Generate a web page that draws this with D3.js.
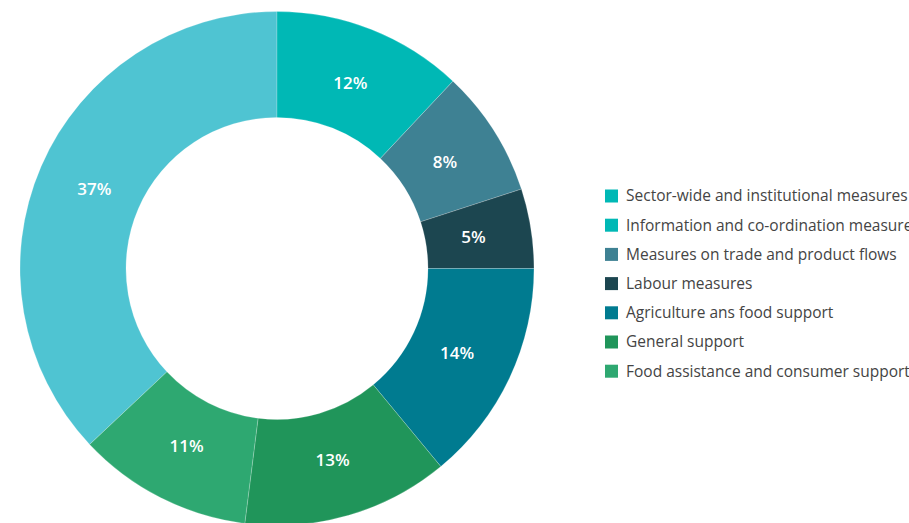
<!DOCTYPE html>
<html>
<head>
<meta charset="utf-8">
<script src="https://cdn.jsdelivr.net/npm/d3@7"></script>
<style>
html,body{margin:0;padding:0;background:#fff;overflow:hidden;}
svg{display:block;}
</style>
</head>
<body>
<svg id="chart" width="909" height="523"></svg>
<script>
const categories = [
  "Sector-wide and institutional measures",
  "Information and co-ordination measures",
  "Measures on trade and product flows",
  "Labour measures",
  "Agriculture ans food support",
  "General support",
  "Food assistance and consumer support"
];
const values = [37, 12, 8, 5, 14, 13, 11];
const sliceColors = ["#4fc4d2", "#00b8b5", "#3e8193", "#1c4650", "#007b90", "#20955a", "#2ea871"];
const legendColors = ["#00b8b5", "#00b8b5", "#3e8193", "#1c4650", "#007b90", "#20955a", "#2ea871"];

const svg = d3.select("#chart");
const cx = 277, cy = 268.5, rOuter = 257, rInner = 151;
const total = d3.sum(values);
const startA = -2 * Math.PI * values[0] / total;

const pie = d3.pie().value(d => d).sort(null)
  .startAngle(startA).endAngle(startA + 2 * Math.PI);
const arcs = pie(values);
const arc = d3.arc().innerRadius(rInner).outerRadius(rOuter);
const labelR = 199;
const labelArc = d3.arc().innerRadius(labelR).outerRadius(labelR);

const g = svg.append("g").attr("transform", `translate(${cx},${cy})`);
g.selectAll("path").data(arcs).join("path")
  .attr("d", arc)
  .attr("fill", (d, i) => sliceColors[i])
  .attr("stroke", "#ffffff")
  .attr("stroke-opacity", 0.35)
  .attr("stroke-width", 0.6);

g.selectAll("text").data(arcs).join("text")
  .attr("transform", d => `translate(${labelArc.centroid(d)})`)
  .attr("text-anchor", "middle")
  .attr("dy", "0.35em")
  .attr("fill", "#ffffff")
  .attr("font-family", "'Open Sans', 'Noto Sans', sans-serif")
  .attr("font-weight", 600)
  .attr("font-size", 17)
  .text(d => d.data + "%");

const legend = svg.append("g").attr("transform", "translate(605,196)");
const item = legend.selectAll("g").data(categories).join("g")
  .attr("transform", (d, i) => `translate(0,${i * 29.2})`);
item.append("rect")
  .attr("x", 0).attr("y", -6.5).attr("width", 13).attr("height", 13)
  .attr("fill", (d, i) => legendColors[i]);
item.append("text")
  .attr("x", 21).attr("y", 0).attr("dy", "0.35em")
  .attr("fill", "#444")
  .attr("font-family", "'Open Sans', 'Noto Sans', sans-serif")
  .attr("font-size", 15.5)
  .text(d => d);
</script>
</body>
</html>
